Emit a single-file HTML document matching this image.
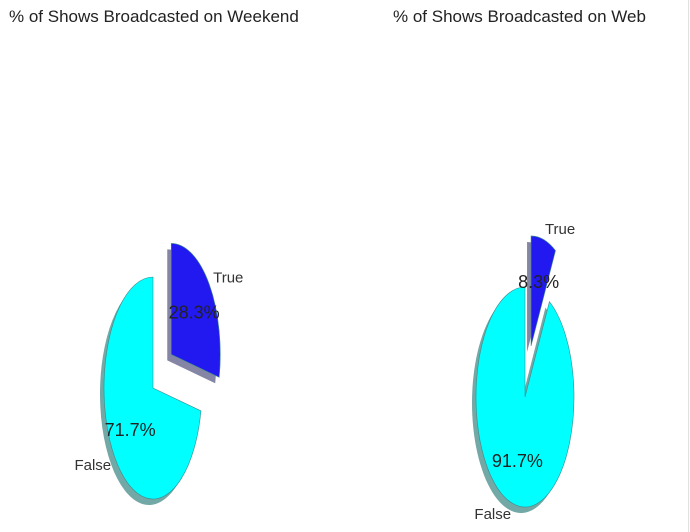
<!DOCTYPE html>
<html><head><meta charset="utf-8"><style>
body{margin:0;background:#fff;}
svg{display:block;font-family:"Liberation Sans",sans-serif;}
</style></head><body>
<svg id="c" width="690" height="532">
<rect width="690" height="532" fill="#fff"/>
<line x1="688.5" y1="0" x2="688.5" y2="532" stroke="#e0e0e0" stroke-width="1"/>
<text x="9" y="22" font-size="17" fill="#222">% of Shows Broadcasted on Weekend</text>
<text x="393" y="22" font-size="17" fill="#222">% of Shows Broadcasted on Web</text>
</svg>
<script>
const categories = ["True", "False"];
const weekendValues = [28.3, 71.7];
const webValues = [8.3, 91.7];
const colors = ["#2219f0", "#00ffff"];
const shadows = ["#8585a5", "#72a8a5"];
const svg = document.getElementById('c');
const NS = 'http://www.w3.org/2000/svg';
function mk(t, a){const e=document.createElementNS(NS,t);for(const k in a)e.setAttribute(k,a[k]);svg.appendChild(e);return e;}
function drawPie(values, cx, cy, rx, ry, name){
  const total = values.reduce((a,b)=>a+b,0);
  const ex = 0.48;
  let start = 0;
  const pt = (a, r, ox, oy) => [ox + r*rx*Math.sin(a), oy - r*ry*Math.cos(a)];
  const slices = [];
  values.forEach((v,i)=>{
    const sweep = v/total*2*Math.PI;
    const a0 = start, a1 = start + sweep, mid = (a0+a1)/2;
    const e = i===0 ? ex : 0;
    const [ox, oy] = pt(mid, e, cx, cy);
    slices.push({i,a0,a1,mid,ox,oy,sweep,e});
    start = a1;
  });
  const pathFor = (s, dx, dy) => {
    const [x0,y0] = pt(s.a0,1,s.ox+dx,s.oy+dy), [x1,y1]=pt(s.a1,1,s.ox+dx,s.oy+dy);
    const large = s.sweep > Math.PI ? 1 : 0;
    return `M${s.ox+dx},${s.oy+dy}L${x0},${y0}A${rx},${ry} 0 ${large} 1 ${x1},${y1}Z`;
  };
  slices.forEach(s=>{
    const p = mk('path',{d:pathFor(s,-4,6),fill:shadows[s.i]});
    
    
  });
  slices.forEach(s=>{
    const p = mk('path',{d:pathFor(s,0,0),fill:colors[s.i],stroke:'#3c8a8a','stroke-width':0.6});
    
    
  });
  slices.forEach(s=>{
    const [px,py] = pt(s.mid, s.e+0.6, cx, cy);
    const t = mk('text',{x:px,y:py+6,'font-size':18,'text-anchor':'middle',fill:'#222'});
    t.textContent = values[s.i].toFixed(1)+'%';
    
    
    const [lx,ly] = pt(s.mid, s.e+1.1, cx, cy);
    const l = mk('text',{x:lx,y:ly+5,'font-size':15,'text-anchor':Math.sin(s.mid)>=0?'start':'end',fill:'#333'});
    l.textContent = categories[s.i];
    
    
  });
}
drawPie(weekendValues, 153, 388, 49, 111, 'weekend');
drawPie(webValues, 525, 397, 49, 110, 'web');
</script>
</body></html>
